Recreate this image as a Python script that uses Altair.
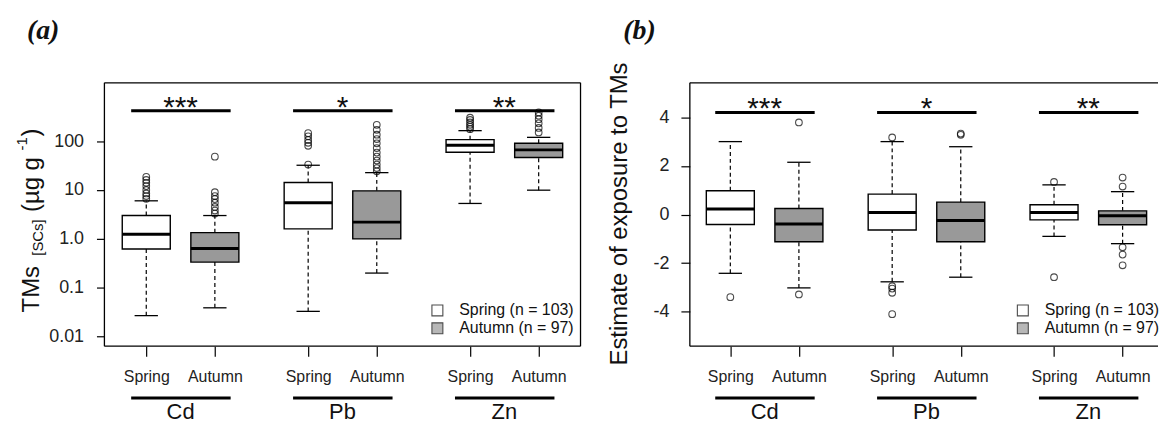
import altair as alt
import pandas as pd

FONT = "Liberation Sans"
SERIF = "Liberation Serif"

# ---------------- data ----------------
groups = ["Cd", "Cd", "Pb", "Pb", "Zn", "Zn"]
seasons = ["Spring", "Autumn", "Spring", "Autumn", "Spring", "Autumn"]
positions = [1.0, 2.0, 3.36, 4.36, 5.72, 6.72]
group_names = ["Cd", "Pb", "Zn"]
sig_labels = ["***", "*", "**"]
legend_labels = ["Spring (n = 103)", "Autumn (n = 97)"]

# panel (a): TMs in SCs (log scale)
a_lo = [0.027, 0.039, 0.033, 0.20, 5.3, 9.9]
a_q1 = [0.62, 0.335, 1.6, 1.0, 59, 46]
a_med = [1.25, 0.635, 5.5, 2.2, 82, 66]
a_q3 = [3.0, 1.34, 14.2, 9.6, 107, 90]
a_hi = [6.0, 3.0, 32, 22.6, 163, 119]
a_out = [
    [6.6, 7.5, 8.5, 10, 12, 14, 16, 18.5],
    [3.3, 3.8, 4.5, 5.5, 6.5, 7.5, 9, 48],
    [33, 80, 92, 105, 125, 145],
    [24, 28, 33, 40, 48, 58, 72, 90, 110, 135, 170, 215],
    [175, 195, 215, 240, 270, 300],
    [150, 185, 230, 280, 330, 385],
]
a_sig_y = 417
a_ticks = [0.01, 0.1, 1, 10, 100]
a_tick_labels = ["0.01", "0.1", "1.0", "10", "100"]

# panel (b): estimate of exposure
b_lo = [-2.42, -3.02, -2.77, -2.58, -0.90, -1.20]
b_q1 = [-0.41, -1.12, -0.64, -1.12, -0.22, -0.42]
b_med = [0.23, -0.39, 0.08, -0.25, 0.08, -0.05]
b_q3 = [0.98, 0.25, 0.84, 0.51, 0.40, 0.15]
b_hi = [3.0, 2.15, 3.0, 2.79, 1.22, 0.94]
b_out = [
    [-3.40],
    [3.79, -3.29],
    [3.17, -2.95, -3.05, -3.22, -4.10],
    [3.28, 3.33],
    [1.34, -2.58],
    [1.15, 1.52, -1.35, -1.65, -2.09],
]
b_sig_y = 4.2
b_ticks = [-4, -2, 0, 2, 4]

# ---------------- tables ----------------
BOX_HALF = 0.35
CAP_HALF = 0.17


def box_table(lo, q1, med, q3, hi):
    return pd.DataFrame({
        "group": groups, "season": seasons, "pos": positions,
        "xl": [p - BOX_HALF for p in positions], "xr": [p + BOX_HALF for p in positions],
        "cl": [p - CAP_HALF for p in positions], "cr": [p + CAP_HALF for p in positions],
        "lo": lo, "q1": q1, "med": med, "q3": q3, "hi": hi,
    })


def out_table(outs):
    rows = []
    for p, vals in zip(positions, outs):
        for v in vals:
            rows.append({"pos": p, "v": v})
    return pd.DataFrame(rows)


def sig_table(y):
    return pd.DataFrame({
        "label": sig_labels,
        "x1": [positions[i] - 0.22 for i in (0, 2, 4)],
        "x2": [positions[i + 1] + 0.23 for i in (0, 2, 4)],
        "xm": [(positions[i] + positions[i + 1]) / 2 for i in (0, 2, 4)],
        "y": [y] * 3,
    })


def group_table():
    return pd.DataFrame({
        "name": group_names,
        "x1": [positions[i] - 0.22 for i in (0, 2, 4)],
        "x2": [positions[i + 1] + 0.23 for i in (0, 2, 4)],
        "xm": [(positions[i] + positions[i + 1]) / 2 for i in (0, 2, 4)],
    })


one = pd.DataFrame({"d": [0]})

season_color = alt.Scale(domain=["Spring", "Autumn"], range=["#ffffff", "#999999"])


def ternary(vals, labels):
    expr = "''"
    for v, l in reversed(list(zip(vals, labels))):
        expr = f"datum.value == {v} ? '{l}' : ({expr})"
    return expr


x_axis = alt.Axis(values=positions, labelExpr=ternary(positions, seasons), title=None,
                  domain=False, grid=False, tickSize=10, tickColor="black", tickWidth=1.2,
                  labelFont=FONT, labelFontSize=16, labelColor="#222", labelPadding=13)


def ptext(txt, x, y, size, font=FONT, **kw):
    return alt.Chart(one).mark_text(text=txt, fontSize=size, font=font, color="#111", **kw).encode(
        x=alt.value(x), y=alt.value(y))


def hrule(x1, x2, y, w=1.3):
    return alt.Chart(one).mark_rule(color="black", strokeWidth=w).encode(
        x=alt.value(x1), x2=alt.value(x2), y=alt.value(y))


def vrule(x, y1, y2, w=1.3):
    return alt.Chart(one).mark_rule(color="black", strokeWidth=w).encode(
        x=alt.value(x), y=alt.value(y1), y2=alt.value(y2))


H = 265


def panel(stats, outs, yscale, yaxis, sig_y, width, xdom, tag, tag_x, right_border):
    bt = box_table(*stats)
    xs = alt.Scale(domain=xdom, nice=False, zero=False)
    X = lambda f: alt.X(f, type="quantitative", scale=xs, axis=x_axis)
    Y = lambda f: alt.Y(f, type="quantitative", scale=yscale, axis=yaxis)
    base = alt.Chart(bt)
    dash = [4, 3]
    wh_up = base.mark_rule(color="black", strokeWidth=1.2, strokeDash=dash).encode(
        x=X("pos"), y=Y("q3"), y2="hi")
    wh_dn = base.mark_rule(color="black", strokeWidth=1.2, strokeDash=dash).encode(
        x=X("pos"), y=Y("lo"), y2="q1")
    boxes = base.mark_rect(stroke="black", strokeWidth=1.4).encode(
        x=X("xl"), x2="xr", y=Y("q1"), y2="q3",
        fill=alt.Fill("season:N", scale=season_color, legend=None))
    med = base.mark_rule(color="black", strokeWidth=3).encode(x=X("xl"), x2="xr", y=Y("med"))
    cap_hi = base.mark_rule(color="black", strokeWidth=1.3).encode(x=X("cl"), x2="cr", y=Y("hi"))
    cap_lo = base.mark_rule(color="black", strokeWidth=1.3).encode(x=X("cl"), x2="cr", y=Y("lo"))
    pts = alt.Chart(out_table(outs)).mark_point(shape="circle", filled=False, size=45,
                                                 color="black", strokeWidth=1.1).encode(
        x=X("pos"), y=Y("v"))
    st = sig_table(sig_y)
    sig_bar = alt.Chart(st).mark_rule(color="black", strokeWidth=3).encode(
        x=X("x1"), x2="x2", y=Y("y"))
    sig_txt = alt.Chart(st).mark_text(fontSize=30, font=FONT, color="#111", baseline="alphabetic",
                                      dy=6).encode(x=X("xm"), y=Y("y"), text="label")
    gt = group_table()
    g_bar = alt.Chart(gt).mark_rule(color="black", strokeWidth=3).encode(
        x=X("x1"), x2="x2", y=alt.value(317))
    g_txt = alt.Chart(gt).mark_text(fontSize=22, font=FONT, color="#111", baseline="alphabetic").encode(
        x=X("xm"), y=alt.value(338), text="name")
    frame = [hrule(0, width, 0), hrule(0, width, H), vrule(0, 0, H)]
    if right_border:
        frame.append(vrule(width, 0, H))
    leg = [
        alt.Chart(one).mark_square(size=121, stroke="black", strokeWidth=1.1, fill="#ffffff").encode(
            x=alt.value(335), y=alt.value(229)),
        alt.Chart(one).mark_square(size=121, stroke="black", strokeWidth=1.1, fill="#999999").encode(
            x=alt.value(335), y=alt.value(247)),
        ptext(legend_labels[0], 357, 229, 16, align="left", baseline="middle"),
        ptext(legend_labels[1], 357, 247, 16, align="left", baseline="middle"),
    ]
    tag_t = ptext(tag, tag_x, -52, 28, font=SERIF, fontStyle="italic", fontWeight="bold",
                  align="left", baseline="middle")
    layers = [wh_up, wh_dn, boxes, med, cap_hi, cap_lo, pts, sig_bar, sig_txt, g_bar, g_txt,
              *frame, *leg, tag_t]
    return layers


# panel a
ya = alt.Scale(type="log", domain=[0.0064, 1550], nice=False)
ya_axis = alt.Axis(values=a_ticks, labelExpr=ternary(a_ticks, a_tick_labels), title=None,
                   domain=False, grid=False, tickSize=8, tickColor="black", tickWidth=1.2,
                   labelFont=FONT, labelFontSize=18, labelColor="#222", labelPadding=13)
layers_a = panel((a_lo, a_q1, a_med, a_q3, a_hi), a_out, ya, ya_axis, a_sig_y, 479,
                 [0.39, 7.33], "(a)", -78, True)
title_a = [
    ptext("TMs", -66, 231, 24, angle=270, align="left", baseline="alphabetic"),
    ptext("[SCs]", -62, 174, 15, angle=270, align="left", baseline="alphabetic"),
    ptext("(µg g", -66, 130, 24, angle=270, align="left", baseline="alphabetic"),
    ptext("-1", -78, 68, 15, angle=270, align="left", baseline="alphabetic"),
    ptext(")", -66, 54, 24, angle=270, align="left", baseline="alphabetic"),
]
anchor = alt.Chart(one).mark_rule(opacity=0, strokeWidth=1).encode(
    x=alt.value(-97), x2=alt.value(-95), y=alt.value(-74))
pa = alt.layer(*layers_a, *title_a, anchor).properties(width=479, height=H)

# panel b
yb = alt.Scale(domain=[-5.42, 5.42], nice=False, zero=False)
yb_axis = alt.Axis(values=b_ticks, labelExpr="(datum.value < 0 ? '-' : '') + abs(datum.value)",
                   title=None, domain=False, grid=False, tickSize=9, tickColor="black", tickWidth=1.2,
                   labelFont=FONT, labelFontSize=18, labelColor="#222", labelPadding=12)
layers_b = panel((b_lo, b_q1, b_med, b_q3, b_hi), b_out, yb, yb_axis, b_sig_y, 471,
                 [0.41, 0.41 + 471 / 69.0], "(b)", -67, False)
title_b = [ptext("Estimate of exposure to TMs", -63, 132, 24, angle=270, align="center",
                 baseline="alphabetic")]
pb = alt.layer(*layers_b, *title_b).properties(width=471, height=H)

chart = alt.hconcat(pa, pb, spacing=110, bounds="flush").properties(
    padding=0, background="white"
).configure_view(stroke=None)

chart.save("out.html", embed_options={"renderer": "svg", "actions": False})
